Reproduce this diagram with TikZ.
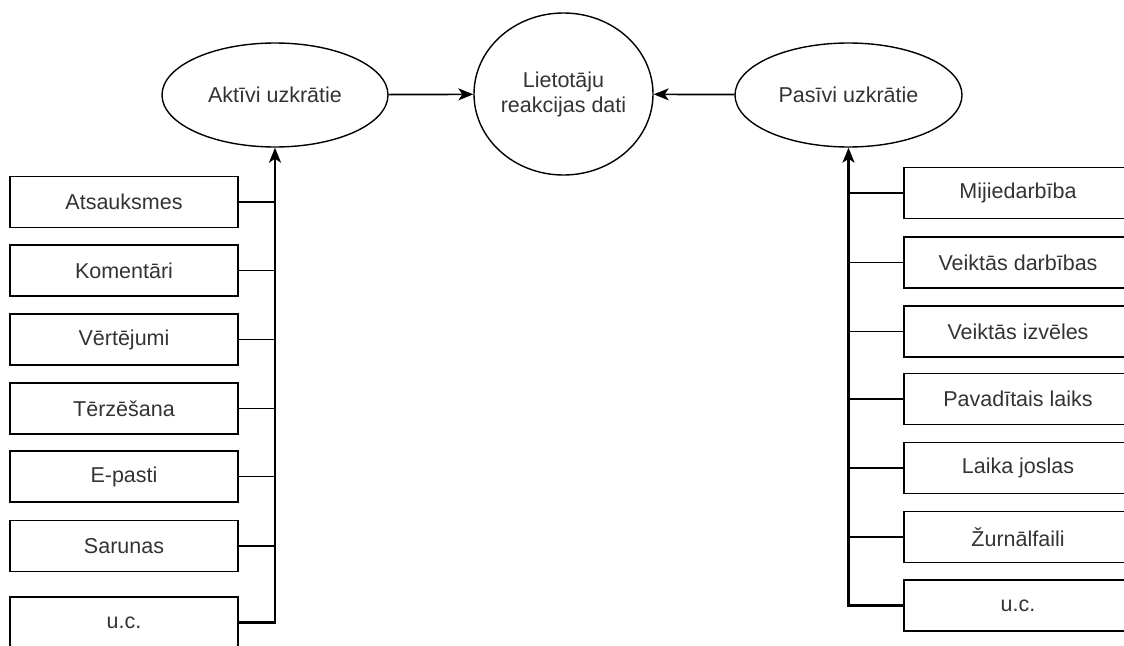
\documentclass[tikz,border=0pt]{standalone}
\usepackage{fontspec}
\setmainfont{Liberation Sans}
\usetikzlibrary{shapes.geometric,arrows.meta}
\definecolor{inkgray}{HTML}{333333}
\begin{document}
\begin{tikzpicture}[x=1pt,y=1pt,
  every node/.style={text=inkgray,font=\fontsize{21.5}{25}\selectfont},
  oval/.style={ellipse,draw=black,line width=1.4pt,inner sep=0pt,align=center},
  item/.style={rectangle,draw=black,line width=1.6pt,minimum width=228pt,minimum height=51pt,inner sep=0pt},
  link/.style={draw=black,line width=1.7pt},
  feed/.style={link,-{Stealth[length=15pt,width=12pt,inset=4pt]}},
  trunk/.style={feed,line width=2.1pt}]
\useasboundingbox (0,0) rectangle (1124,-645);

% central data node and the two collection modes
\node[oval,minimum width=179pt,minimum height=162pt] (C) at (563.5,-94) {Lietotāju\\reakcijas dati};
\node[oval,minimum width=226pt,minimum height=104pt] (L) at (275,-95) {Aktīvi uzkrātie};
\node[oval,minimum width=227pt,minimum height=104pt] (R) at (848.5,-95) {Pasīvi uzkrātie};

\draw[feed] (L) -- (C);
\draw[feed] (R) -- (C);

% actively collected sources
\node[item] (a1) at (124,-202) {Atsauksmes};
\node[item] (a2) at (124,-270.5) {Komentāri};
\node[item] (a3) at (124,-339.5) {Vērtējumi};
\node[item] (a4) at (124,-408.5) {Tērzēšana};
\node[item] (a5) at (124,-476.5) {E-pasti};
\node[item] (a6) at (124,-546) {Sarunas};
\node[item] (a7) at (124,-622.5) {u.c.};

\draw[trunk] (a7.east) -| (L.south);
\foreach \k in {1,...,6} \draw[link] (a\k.east) -- (a\k.east -| L.south);

% passively collected sources
\node[item] (b1) at (1018,-193) {Mijiedarbība};
\node[item] (b2) at (1018,-262.5) {Veiktās darbības};
\node[item] (b3) at (1018,-331.5) {Veiktās izvēles};
\node[item] (b4) at (1018,-399) {Pavadītais laiks};
\node[item] (b5) at (1018,-468) {Laika joslas};
\node[item] (b6) at (1018,-537) {Žurnālfaili};
\node[item] (b7) at (1018,-605.5) {u.c.};

\draw[trunk] (b7.west) -| (R.south);
\foreach \k in {1,...,6} \draw[link] (b\k.west) -- (b\k.west -| R.south);
\end{tikzpicture}
\end{document}
